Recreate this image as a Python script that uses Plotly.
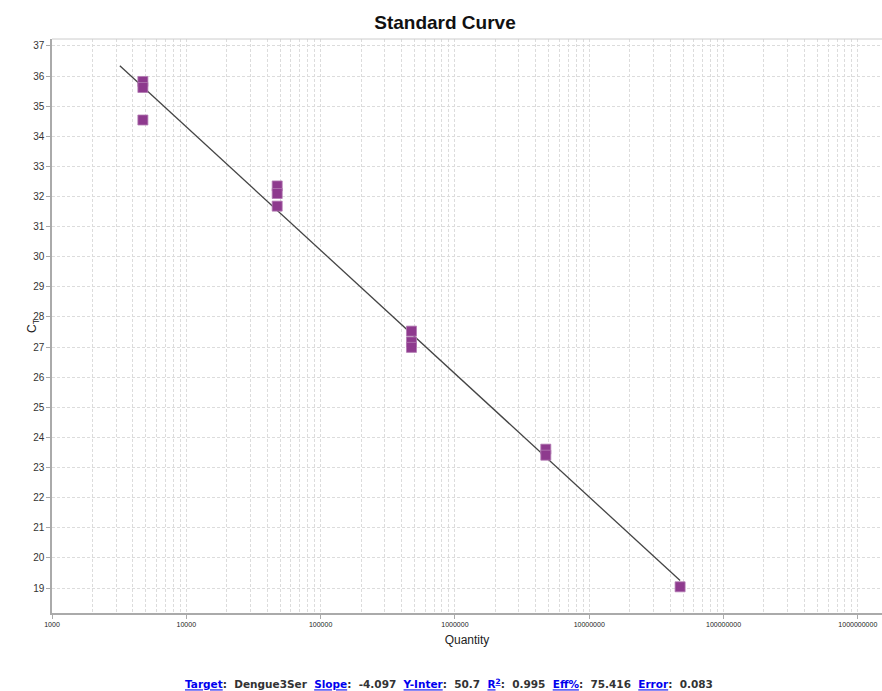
import math
import plotly.graph_objects as go

# Data
quantity = [4750, 4750, 4750,
            47500, 47500, 47500,
            475000, 475000, 475000,
            4750000, 4750000,
            47500000]
ct = [35.82, 35.62, 34.54,
      32.35, 32.10, 31.68,
      27.53, 27.17, 26.99,
      23.61, 23.41,
      19.04]

slope = -4.097
intercept = 50.7
line_quantity = [3200, 47500000]

x_ticks = [1e3, 1e4, 1e5, 1e6, 1e7, 1e8, 1e9]
x_tick_labels = ["1000", "10000", "100000", "1000000", "10000000", "100000000", "1000000000"]

line_ct = [intercept + slope * math.log10(q) for q in line_quantity]

minor_vals = [m * d for d in x_ticks for m in range(2, 10)]

fig = go.Figure()
fig.add_trace(go.Scatter(
    x=line_quantity, y=line_ct, mode="lines",
    line=dict(color="#444444", width=1.3), showlegend=False, hoverinfo="skip"))
fig.add_trace(go.Scatter(
    x=quantity, y=ct, mode="markers",
    marker=dict(symbol="square", size=10, color="#8E3A8E",
                line=dict(color="#B37BB3", width=0.8)),
    showlegend=False))

grid_col = "#dcdcdc"
dash = "3px,2px"
fig.update_layout(
    width=882, height=691,
    margin=dict(l=52, r=0, t=39, b=78),
    paper_bgcolor="white", plot_bgcolor="white",
    font=dict(family="Liberation Sans, Arial, sans-serif", color="#333333"),
    title=dict(text="<b>Standard Curve</b>", x=445 / 882, xref="container", xanchor="center",
               y=1 - 22 / 691, yref="container", yanchor="middle",
               font=dict(size=19, color="#111111", family="Liberation Sans, Arial, sans-serif")),
    xaxis=dict(type="log", range=[3, 9.18], tickvals=x_ticks, ticktext=x_tick_labels,
               tickfont=dict(size=7, color="#222222"),
               showgrid=True, gridcolor=grid_col, griddash=dash, gridwidth=1,
               minor=dict(tickvals=minor_vals, showgrid=True, gridcolor=grid_col,
                          griddash=dash, gridwidth=1, ticks=""),
               showline=True, linecolor="#aaaaaa", linewidth=1.5,
               ticks="outside", ticklen=4, tickcolor="#aaaaaa",
               zeroline=False, mirror=False,
               title=dict(text="Quantity", font=dict(size=12, color="#222222"), standoff=8)),
    yaxis=dict(range=[18.17, 37.23], dtick=1, tick0=19,
               tickfont=dict(size=10, color="#333333"),
               showgrid=True, gridcolor=grid_col, griddash=dash, gridwidth=1,
               showline=True, linecolor="#aaaaaa", linewidth=1.5,
               ticks="outside", ticklen=4, tickcolor="#aaaaaa",
               zeroline=False),
)

# y axis title placed close to the tick labels
fig.add_annotation(text="C<sub>T</sub>", xref="paper", yref="paper",
                   x=-(52 - 33) / 830, y=(613 - 326) / 574, xanchor="center", yanchor="middle",
                   textangle=-90, showarrow=False,
                   font=dict(size=12, color="#222222"))

# top border of plot area
fig.add_shape(type="line", xref="paper", yref="paper", x0=0, x1=1, y0=1, y1=1,
              line=dict(color="#cccccc", width=1))

lab = lambda s: f"<span style='color:#0000EE'><u>{s}</u></span>"
footer = (f"<b>{lab('Target')}:  Dengue3Ser  {lab('Slope')}:  -4.097  {lab('Y-Inter')}:  50.7  "
          f"{lab('R<sup>2</sup>')}:  0.995  {lab('Eff%')}:  75.416  {lab('Error')}:  0.083</b>")
fig.add_annotation(text=footer, xref="paper", yref="paper",
                   x=(449 - 52) / 830, y=-(683 - 613) / 574, xanchor="center", yanchor="middle",
                   showarrow=False, font=dict(size=10.5, family="DejaVu Sans, Verdana, sans-serif",
                                              color="#333333"))

fig.write_html("out.html", config={"displayModeBar": False},
               post_script="document.body.style.margin='0';document.body.style.overflow='hidden';")
